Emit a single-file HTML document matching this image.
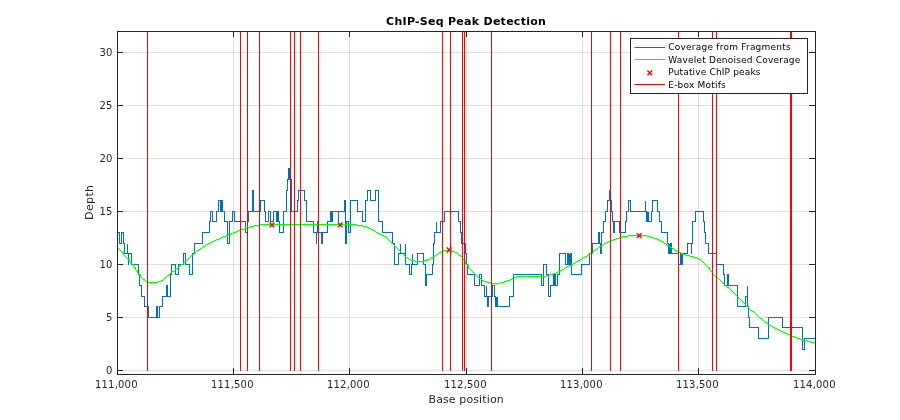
<!DOCTYPE html>
<html><head><meta charset="utf-8"><title>ChIP-Seq Peak Detection</title>
<style>html,body{margin:0;padding:0;background:#fff;}svg{display:block;}text{font-family:"DejaVu Sans","Liberation Sans",sans-serif;fill:#262626;}</style></head><body>
<svg width="900" height="420" viewBox="0 0 900 420">
<rect x="0" y="0" width="900" height="420" fill="#fff"/>
<path d="M233.50 31.5V374.5M349.50 31.5V374.5M466.50 31.5V374.5M582.50 31.5V374.5M698.50 31.5V374.5" stroke="#262626" stroke-opacity="0.15" stroke-width="1" fill="none"/>
<path d="M117.5 370.50H815.5M117.5 317.50H815.5M117.5 264.50H815.5M117.5 211.50H815.5M117.5 158.50H815.5M117.5 105.50H815.5M117.5 52.50H815.5" stroke="#262626" stroke-opacity="0.15" stroke-width="1" fill="none"/>
<clipPath id="c"><rect x="117.5" y="31.5" width="698.0" height="343.0"/></clipPath>
<g clip-path="url(#c)" fill="none">
<path d="M117.5 232.5H119.5V243.5H121.5V232.5H123.5V243.5H124.5V253.5H127.5V243.5H127.5V253.5H128.5V264.5H128.5V253.5H131.5V264.5H138.5V274.5H139.5V285.5H141.5V296.5H144.5V306.5H148.5V317.5H156.5V306.5H157.5V317.5H159.5V306.5H162.5V296.5H166.5V285.5H167.5V296.5H170.5V274.5H171.5V264.5H175.5V274.5H178.5V264.5H183.5V253.5H185.5V264.5H189.5V274.5H192.5V253.5H194.5V243.5H202.5V232.5H209.5V221.5H210.5V211.5H212.5V221.5H216.5V211.5H218.5V200.5H220.5V211.5H221.5V200.5H222.5V211.5H224.5V221.5H227.5V243.5H229.5V221.5H232.5V211.5H234.5V221.5H245.5V232.5H247.5V221.5H248.5V211.5H252.5V190.5H253.5V211.5H260.5V200.5H264.5V211.5H265.5V221.5H268.5V211.5H270.5V221.5H273.5V211.5H276.5V221.5H277.5V211.5H278.5V221.5H279.5V232.5H283.5V211.5H286.5V190.5H287.5V179.5H288.5V168.5H289.5V179.5H289.5V168.5H290.5V179.5H291.5V211.5H297.5V200.5H298.5V190.5H304.5V200.5H306.5V221.5H313.5V232.5H316.5V243.5H316.5V232.5H317.5V221.5H318.5V232.5H321.5V243.5H322.5V232.5H327.5V221.5H330.5V211.5H331.5V221.5H332.5V211.5H338.5V221.5H338.5V211.5H344.5V200.5H345.5V243.5H346.5V221.5H348.5V232.5H350.5V221.5H350.5V200.5H357.5V211.5H362.5V221.5H365.5V200.5H367.5V190.5H370.5V200.5H375.5V190.5H378.5V221.5H382.5V232.5H392.5V243.5H394.5V264.5H398.5V253.5H400.5V243.5H400.5V253.5H405.5V243.5H405.5V264.5H409.5V274.5H411.5V264.5H412.5V253.5H412.5V264.5H417.5V253.5H423.5V264.5H425.5V285.5H426.5V274.5H432.5V264.5H433.5V253.5H433.5V243.5H434.5V232.5H436.5V221.5H436.5V232.5H440.5V221.5H444.5V211.5H458.5V221.5H460.5V232.5H461.5V243.5H465.5V253.5H466.5V264.5H467.5V274.5H474.5V285.5H479.5V274.5H481.5V285.5H484.5V296.5H486.5V285.5H486.5V296.5H487.5V306.5H488.5V296.5H492.5V285.5H494.5V296.5H495.5V306.5H496.5V296.5H496.5V306.5H497.5V296.5H497.5V306.5H509.5V296.5H513.5V274.5H541.5V285.5H543.5V264.5H546.5V274.5H548.5V296.5H550.5V285.5H553.5V274.5H554.5V285.5H554.5V274.5H555.5V285.5H557.5V274.5H559.5V253.5H565.5V264.5H567.5V253.5H568.5V264.5H569.5V253.5H569.5V264.5H570.5V253.5H571.5V274.5H581.5V264.5H589.5V253.5H592.5V243.5H598.5V232.5H599.5V243.5H600.5V253.5H601.5V243.5H601.5V232.5H603.5V221.5H605.5V211.5H607.5V200.5H609.5V190.5H610.5V200.5H611.5V211.5H612.5V221.5H613.5V232.5H614.5V221.5H619.5V232.5H625.5V221.5H626.5V211.5H628.5V200.5H630.5V211.5H645.5V200.5H645.5V211.5H646.5V221.5H647.5V211.5H647.5V221.5H648.5V211.5H648.5V221.5H651.5V211.5H652.5V200.5H657.5V211.5H659.5V221.5H661.5V232.5H667.5V243.5H668.5V253.5H669.5V243.5H669.5V253.5H670.5V243.5H671.5V253.5H678.5V264.5H680.5V253.5H681.5V264.5H682.5V253.5H687.5V243.5H691.5V253.5H691.5V243.5H692.5V232.5H692.5V221.5H695.5V211.5H703.5V221.5H704.5V232.5H705.5V243.5H708.5V253.5H716.5V264.5H723.5V274.5H724.5V285.5H727.5V274.5H728.5V285.5H737.5V306.5H745.5V296.5H747.5V285.5H747.5V306.5H748.5V317.5H749.5V327.5H758.5V338.5H768.5V317.5H782.5V327.5H802.5V349.5H804.5V338.5H815.5" stroke="#0072bd" stroke-width="1" stroke-linejoin="miter" shape-rendering="crispEdges"/>
<path d="M117.0 247.5H118.0M118.0 248.5H119.0M119.0 249.5H120.0M120.0 250.5H121.0M121.0 251.5H122.0M122.0 252.5H123.5V254.5H124.0M124.0 255.5H125.0M125.0 256.5H126.0M126.0 257.5H127.0M127.0 258.5H128.0M128.0 259.5H129.5V261.5H130.0M130.0 262.5H131.0M131.0 263.5H132.0M132.0 264.5H133.5V266.5H134.0M134.0 267.5H135.5V269.5H136.0M136.0 270.5H137.5V272.5H138.0M138.0 273.5H139.0M139.0 274.5H140.5V276.5H141.0M141.0 277.5H142.0M142.0 278.5H143.0M143.0 279.5H145.0M145.0 280.5H146.0M146.0 281.5H148.0M148.0 282.5H158.0M158.0 281.5H161.0M161.0 280.5H163.0M163.0 279.5H164.0M164.0 278.5H165.0M165.0 277.5H166.0M166.0 276.5H167.0M167.0 275.5H169.0M169.0 274.5H170.0M170.0 273.5H171.0M171.0 272.5H172.0M172.0 271.5H174.0M174.0 270.5H175.0M175.0 269.5H176.0M176.0 268.5H178.0M178.0 267.5H179.0M179.0 266.5H180.0M180.0 265.5H181.0M181.0 264.5H183.0M183.0 263.5H184.0M184.0 262.5H185.0M185.0 261.5H186.0M186.0 260.5H187.0M187.0 259.5H188.0M188.0 258.5H189.0M189.0 257.5H190.0M190.0 256.5H191.0M191.0 255.5H192.0M192.0 254.5H194.0M194.0 253.5H195.0M195.0 252.5H196.0M196.0 251.5H197.0M197.0 250.5H199.0M199.0 249.5H200.0M200.0 248.5H202.0M202.0 247.5H203.0M203.0 246.5H205.0M205.0 245.5H206.0M206.0 244.5H208.0M208.0 243.5H210.0M210.0 242.5H212.0M212.0 241.5H214.0M214.0 240.5H216.0M216.0 239.5H219.0M219.0 238.5H221.0M221.0 237.5H223.0M223.0 236.5H226.0M226.0 235.5H228.0M228.0 234.5H231.0M231.0 233.5H233.0M233.0 232.5H236.0M236.0 231.5H238.0M238.0 230.5H241.0M241.0 229.5H244.0M244.0 228.5H247.0M247.0 227.5H250.0M250.0 226.5H254.0M254.0 225.5H259.0M259.0 224.5H357.0M357.0 225.5H363.0M363.0 226.5H367.0M367.0 227.5H369.0M369.0 228.5H371.0M371.0 229.5H373.0M373.0 230.5H375.0M375.0 231.5H376.0M376.0 232.5H378.0M378.0 233.5H380.0M380.0 234.5H382.0M382.0 235.5H384.0M384.0 236.5H386.0M386.0 237.5H387.0M387.0 238.5H388.0M388.0 239.5H389.0M389.0 240.5H390.0M390.0 241.5H391.0M391.0 242.5H392.0M392.0 243.5H393.0M393.0 244.5H394.0M394.0 245.5H395.0M395.0 246.5H396.0M396.0 247.5H397.0M397.0 248.5H398.0M398.0 249.5H399.0M399.0 250.5H400.0M400.0 251.5H401.0M401.0 252.5H402.0M402.0 253.5H403.0M403.0 254.5H404.0M404.0 255.5H405.0M405.0 256.5H406.0M406.0 257.5H408.0M408.0 258.5H409.0M409.0 259.5H411.0M411.0 260.5H415.0M415.0 261.5H424.0M424.0 260.5H427.0M427.0 259.5H430.0M430.0 258.5H431.0M431.0 257.5H433.0M433.0 256.5H435.0M435.0 255.5H436.0M436.0 254.5H438.0M438.0 253.5H439.0M439.0 252.5H441.0M441.0 251.5H442.0M442.0 250.5H452.0M452.0 251.5H455.0M455.0 252.5H457.0M457.0 253.5H458.0M458.0 254.5H459.0M459.0 255.5H461.0M461.0 256.5H462.5V258.5H463.0M463.0 259.5H464.5V261.5H465.5V263.5H466.0M466.0 264.5H467.0M467.0 265.5H468.5V267.5H469.0M469.0 268.5H470.0M470.0 269.5H471.0M471.0 270.5H472.0M472.0 271.5H473.0M473.0 272.5H474.0M474.0 273.5H475.0M475.0 274.5H476.0M476.0 275.5H477.0M477.0 276.5H478.0M478.0 277.5H479.0M479.0 278.5H481.0M481.0 279.5H482.0M482.0 280.5H484.0M484.0 281.5H487.0M487.0 282.5H492.0M492.0 283.5H500.0M500.0 282.5H504.0M504.0 281.5H507.0M507.0 280.5H510.0M510.0 279.5H512.0M512.0 278.5H513.0M513.0 277.5H516.0M516.0 276.5H546.0M546.0 275.5H550.0M550.0 274.5H553.0M553.0 273.5H556.0M556.0 272.5H558.0M558.0 271.5H560.0M560.0 270.5H562.0M562.0 269.5H564.0M564.0 268.5H565.0M565.0 267.5H567.0M567.0 266.5H569.0M569.0 265.5H571.0M571.0 264.5H573.0M573.0 263.5H575.0M575.0 262.5H576.0M576.0 261.5H578.0M578.0 260.5H580.0M580.0 259.5H582.0M582.0 258.5H583.0M583.0 257.5H585.0M585.0 256.5H587.0M587.0 255.5H588.0M588.0 254.5H590.0M590.0 253.5H591.0M591.0 252.5H593.0M593.0 251.5H594.0M594.0 250.5H595.0M595.0 249.5H597.0M597.0 248.5H598.0M598.0 247.5H599.0M599.0 246.5H601.0M601.0 245.5H603.0M603.0 244.5H604.0M604.0 243.5H606.0M606.0 242.5H608.0M608.0 241.5H610.0M610.0 240.5H613.0M613.0 239.5H616.0M616.0 238.5H619.0M619.0 237.5H622.0M622.0 236.5H628.0M628.0 235.5H647.0M647.0 236.5H651.0M651.0 237.5H654.0M654.0 238.5H657.0M657.0 239.5H659.0M659.0 240.5H661.0M661.0 241.5H663.0M663.0 242.5H664.0M664.0 243.5H666.0M666.0 244.5H667.0M667.0 245.5H669.0M669.0 246.5H670.0M670.0 247.5H672.0M672.0 248.5H674.0M674.0 249.5H675.0M675.0 250.5H677.0M677.0 251.5H679.0M679.0 252.5H681.0M681.0 253.5H683.0M683.0 254.5H686.0M686.0 255.5H690.0M690.0 256.5H694.0M694.0 257.5H697.0M697.0 258.5H699.0M699.0 259.5H701.0M701.0 260.5H702.0M702.0 261.5H703.0M703.0 262.5H704.0M704.0 263.5H705.0M705.0 264.5H706.0M706.0 265.5H707.0M707.0 266.5H708.0M708.0 267.5H709.5V269.5H710.0M710.0 270.5H711.0M711.0 271.5H712.5V273.5H713.0M713.0 274.5H714.0M714.0 275.5H715.0M715.0 276.5H716.0M716.0 277.5H718.0M718.0 278.5H719.0M719.0 279.5H720.0M720.0 280.5H721.0M721.0 281.5H722.0M722.0 282.5H723.0M723.0 283.5H724.0M724.0 284.5H725.0M725.0 285.5H726.0M726.0 286.5H727.0M727.0 287.5H729.0M729.0 288.5H730.0M730.0 289.5H731.0M731.0 290.5H732.0M732.0 291.5H733.0M733.0 292.5H734.0M734.0 293.5H735.0M735.0 294.5H736.0M736.0 295.5H737.0M737.0 296.5H738.0M738.0 297.5H739.0M739.0 298.5H740.0M740.0 299.5H741.0M741.0 300.5H742.0M742.0 301.5H743.0M743.0 302.5H744.0M744.0 303.5H745.0M745.0 304.5H746.0M746.0 305.5H747.0M747.0 306.5H748.0M748.0 307.5H749.0M749.0 308.5H750.0M750.0 309.5H751.0M751.0 310.5H752.0M752.0 311.5H754.0M754.0 312.5H755.0M755.0 313.5H756.0M756.0 314.5H757.0M757.0 315.5H758.0M758.0 316.5H759.0M759.0 317.5H760.0M760.0 318.5H762.0M762.0 319.5H763.0M763.0 320.5H764.0M764.0 321.5H765.0M765.0 322.5H767.0M767.0 323.5H768.0M768.0 324.5H770.0M770.0 325.5H772.0M772.0 326.5H773.0M773.0 327.5H775.0M775.0 328.5H777.0M777.0 329.5H779.0M779.0 330.5H781.0M781.0 331.5H783.0M783.0 332.5H785.0M785.0 333.5H788.0M788.0 334.5H790.0M790.0 335.5H792.0M792.0 336.5H795.0M795.0 337.5H797.0M797.0 338.5H800.0M800.0 339.5H803.0M803.0 340.5H807.0M807.0 341.5H811.0M811.0 342.5H816" stroke="#00ff00" stroke-width="1.25" stroke-linejoin="miter"/>
<path d="M269.6 222.4l4.8 4.8m-4.8 0l4.8 -4.8M337.8 222.4l4.8 4.8m-4.8 0l4.8 -4.8M446.8 247.6l4.8 4.8m-4.8 0l4.8 -4.8M636.9 233.3l4.8 4.8m-4.8 0l4.8 -4.8" stroke="#ff0000" stroke-width="1.4"/>
<path d="M147.5 371.0V31.5M240.5 371.0V31.5M247.5 371.0V31.5M259.5 371.0V31.5M290.5 371.0V31.5M294.5 371.0V31.5M300.5 371.0V31.5M318.5 371.0V31.5M442.5 371.0V31.5M450.5 371.0V31.5M462.5 371.0V31.5M464.5 371.0V31.5M491.5 371.0V31.5M591.5 371.0V31.5M610.5 371.0V31.5M620.5 371.0V31.5M678.5 371.0V31.5M712.5 371.0V31.5M716.5 371.0V31.5M790.5 371.0V31.5M791.5 371.0V31.5" stroke="#ff0000" stroke-width="1"/>
</g>
<path d="M117.50 374.5v-6.5M117.50 31.5v5.5M233.50 374.5v-6.5M233.50 31.5v5.5M349.50 374.5v-6.5M349.50 31.5v5.5M466.50 374.5v-6.5M466.50 31.5v5.5M582.50 374.5v-6.5M582.50 31.5v5.5M698.50 374.5v-6.5M698.50 31.5v5.5M815.50 374.5v-6.5M815.50 31.5v5.5M117.5 370.50h5.5M815.5 370.50h-6.5M117.5 317.50h5.5M815.5 317.50h-6.5M117.5 264.50h5.5M815.5 264.50h-6.5M117.5 211.50h5.5M815.5 211.50h-6.5M117.5 158.50h5.5M815.5 158.50h-6.5M117.5 105.50h5.5M815.5 105.50h-6.5M117.5 52.50h5.5M815.5 52.50h-6.5" stroke="#262626" stroke-width="1" fill="none"/>
<rect x="117.5" y="31.5" width="698.0" height="343.0" fill="none" stroke="#262626" stroke-width="1"/>
<text x="95.0" y="388" font-size="10" textLength="42.5" lengthAdjust="spacing">111,000</text>
<text x="211.0" y="388" font-size="10" textLength="42.5" lengthAdjust="spacing">111,500</text>
<text x="327.0" y="388" font-size="10" textLength="42.5" lengthAdjust="spacing">112,000</text>
<text x="444.0" y="388" font-size="10" textLength="42.5" lengthAdjust="spacing">112,500</text>
<text x="560.0" y="388" font-size="10" textLength="42.5" lengthAdjust="spacing">113,000</text>
<text x="676.0" y="388" font-size="10" textLength="42.5" lengthAdjust="spacing">113,500</text>
<text x="793.0" y="388" font-size="10" textLength="42.5" lengthAdjust="spacing">114,000</text>
<text x="112.3" y="374.3" font-size="10" text-anchor="end">0</text>
<text x="112.3" y="321.3" font-size="10" text-anchor="end">5</text>
<text x="112.3" y="268.3" font-size="10" text-anchor="end">10</text>
<text x="112.3" y="215.3" font-size="10" text-anchor="end">15</text>
<text x="112.3" y="162.3" font-size="10" text-anchor="end">20</text>
<text x="112.3" y="109.3" font-size="10" text-anchor="end">25</text>
<text x="112.3" y="56.3" font-size="10" text-anchor="end">30</text>
<text x="428.5" y="403" font-size="11" textLength="75.2" lengthAdjust="spacing">Base position</text>
<text transform="translate(93.0 219.9) rotate(-90)" font-size="11" textLength="35" lengthAdjust="spacing">Depth</text>
<text x="386.1" y="25.4" font-size="11" font-weight="bold" textLength="159.8" lengthAdjust="spacing" style="fill:#000">ChIP-Seq Peak Detection</text>
<rect x="630.5" y="38.5" width="177" height="55" fill="#fff" stroke="#262626" stroke-width="1"/>
<path d="M634.5 47.5H665" stroke="#0072bd" stroke-width="1"/>
<path d="M634.5 59.5H665" stroke="#00ff00" stroke-width="1"/>
<path d="M647.4 70.5l4.8 4.8m-4.8 0l4.8 -4.8" stroke="#ff0000" stroke-width="1.3" fill="none"/>
<path d="M634.5 84.5H665" stroke="#ff0000" stroke-width="1"/>
<text x="668.3" y="49.8" font-size="9" textLength="122.4" lengthAdjust="spacing" style="fill:#000">Coverage from Fragments</text>
<text x="668.3" y="62.8" font-size="9" textLength="132.0" lengthAdjust="spacing" style="fill:#000">Wavelet Denoised Coverage</text>
<text x="668.3" y="74.8" font-size="9" textLength="92.2" lengthAdjust="spacing" style="fill:#000">Putative ChIP peaks</text>
<text x="668.3" y="87.6" font-size="9" textLength="57.4" lengthAdjust="spacing" style="fill:#000">E-box Motifs</text>
</svg></body></html>
